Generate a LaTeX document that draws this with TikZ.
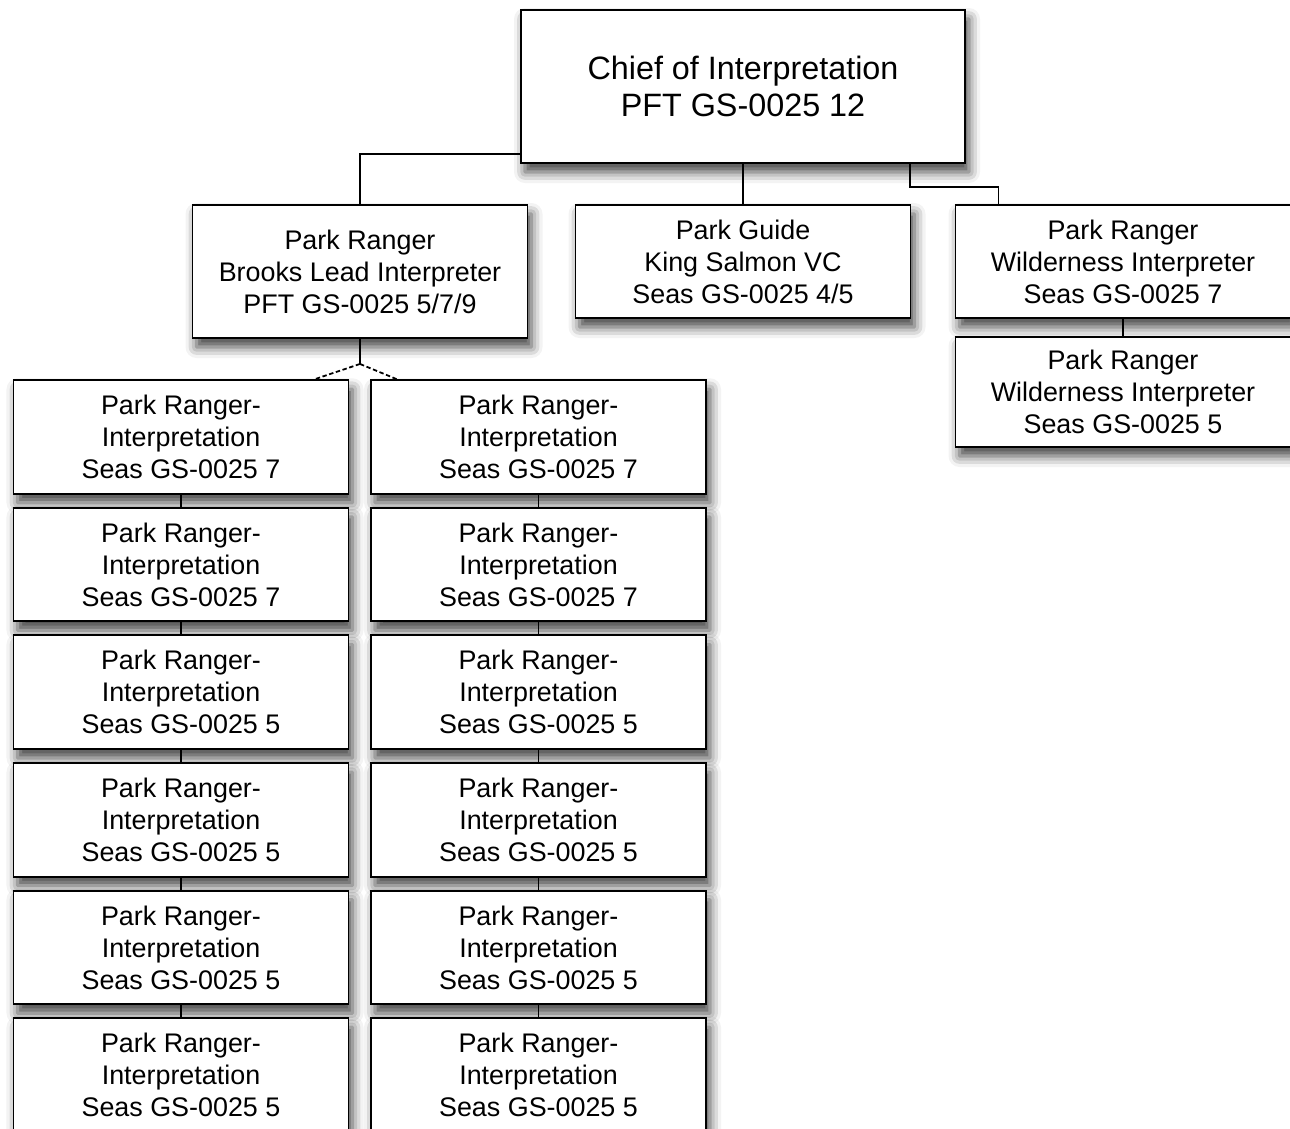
\documentclass[tikz,border=0pt]{standalone}
\usepackage{fontspec}
\setmainfont{Liberation Sans}
\usetikzlibrary{shadows.blur}
\tikzstyle{chief} = [rectangle, minimum width=8.88cm, minimum height=3.06cm, align=center, draw=black, line width=1.1pt, fill=white, font=\fontsize{18.4}{20.6}\selectfont, blur shadow={shadow xshift=0.08cm, shadow yshift=-0.18cm, shadow blur radius=0.22cm, shadow opacity=75}]
\tikzstyle{postbox} = [rectangle, minimum width=6.7cm, minimum height=2.27cm, align=center, draw=black, line width=1.1pt, fill=white, font=\fontsize{15.3}{18.2}\selectfont, blur shadow={shadow xshift=0.08cm, shadow yshift=-0.18cm, shadow blur radius=0.22cm, shadow opacity=75}]
\tikzstyle{connector} = [line width=0.8pt]
\tikzstyle{fork} = [line width=1pt, dash pattern=on 2.5pt off 1.5pt]

\begin{document}
\begin{tikzpicture}[node distance=2.552cm]
\clip (0,0) rectangle (25.8,-22.56);
\node (chief) [chief] at (14.86,-1.73) {Chief of Interpretation\\PFT GS-0025 12};
\node (guide) [postbox, node distance=3.5cm, below of=chief, minimum height=2.26cm] {Park Guide\\King Salmon VC\\Seas GS-0025 4/5};
\node (brooks) [postbox, node distance=7.66cm, left of=guide, yshift=-0.2cm, minimum height=2.66cm] {Park Ranger\\Brooks Lead Interpreter\\PFT GS-0025 5/7/9};
\node (wild7) [postbox, node distance=7.6cm, right of=guide, minimum height=2.26cm] {Park Ranger\\Wilderness Interpreter\\Seas GS-0025 7};
\node (wild5) [postbox, node distance=2.61cm, below of=wild7, minimum height=2.2cm] {Park Ranger\\Wilderness Interpreter\\Seas GS-0025 5};

% interpreters under Brooks
\node (left1) [postbox, node distance=3.31cm, below of=brooks, xshift=-3.58cm] {Park Ranger-\\Interpretation\\Seas GS-0025 7};
\node (right1) [postbox, node distance=7.15cm, right of=left1] {Park Ranger-\\Interpretation\\Seas GS-0025 7};
\node (left2) [postbox, below of=left1] {Park Ranger-\\Interpretation\\Seas GS-0025 7};
\node (right2) [postbox, below of=right1] {Park Ranger-\\Interpretation\\Seas GS-0025 7};
\node (left3) [postbox, below of=left2] {Park Ranger-\\Interpretation\\Seas GS-0025 5};
\node (right3) [postbox, below of=right2] {Park Ranger-\\Interpretation\\Seas GS-0025 5};
\node (left4) [postbox, below of=left3] {Park Ranger-\\Interpretation\\Seas GS-0025 5};
\node (right4) [postbox, below of=right3] {Park Ranger-\\Interpretation\\Seas GS-0025 5};
\node (left5) [postbox, below of=left4] {Park Ranger-\\Interpretation\\Seas GS-0025 5};
\node (right5) [postbox, below of=right4] {Park Ranger-\\Interpretation\\Seas GS-0025 5};
\node (left6) [postbox, below of=left5] {Park Ranger-\\Interpretation\\Seas GS-0025 5};
\node (right6) [postbox, below of=right5] {Park Ranger-\\Interpretation\\Seas GS-0025 5};

\draw [connector] ([yshift=0.2cm]chief.south west) -| (brooks.north);
\draw [connector] (chief.south) -- (guide.north);
\draw [connector] ([xshift=-1.12cm]chief.south east) -- ++(0,-0.46) -| ([xshift=0.88cm]wild7.north west);
\draw [connector] (wild7) -- (wild5);

\coordinate (split) at ([yshift=-0.5cm]brooks.south);
\draw [connector] (brooks.south) -- (split);
\draw [fork] (split) -- ([xshift=-0.7cm]left1.north east);
\draw [fork] (split) -- ([xshift=0.54cm]right1.north west);

\draw [connector] (left1) -- (left2);
\draw [connector] (left2) -- (left3);
\draw [connector] (left3) -- (left4);
\draw [connector] (left4) -- (left5);
\draw [connector] (left5) -- (left6);
\draw [connector] (right1) -- (right2);
\draw [connector] (right2) -- (right3);
\draw [connector] (right3) -- (right4);
\draw [connector] (right4) -- (right5);
\draw [connector] (right5) -- (right6);

\end{tikzpicture}
\end{document}
